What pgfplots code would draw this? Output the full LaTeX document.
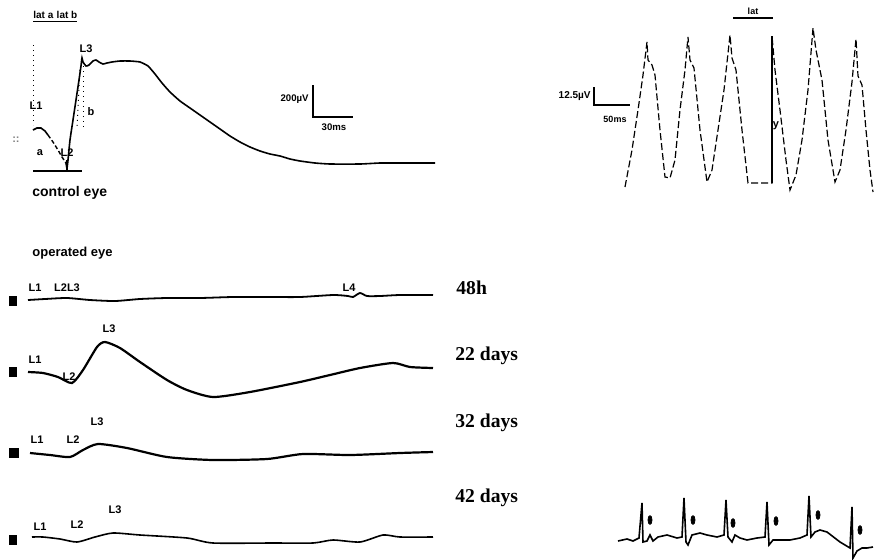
\documentclass[border=0pt]{standalone}
\usepackage{pgfplots}
\pgfplotsset{compat=1.18}
\usepackage{fontspec}
\setmainfont{Liberation Sans}
\newfontfamily\serifb{Liberation Serif}
\tikzset{lab/.style={inner sep=0pt, font=\bfseries\fontsize{5.5}{6}\selectfont},
         day/.style={inner sep=0pt, anchor=west, font=\serifb\bfseries\fontsize{9.8}{10}\selectfont}}
\begin{document}
\begin{tikzpicture}
\begin{axis}[
  scale only axis, width=437.5pt, height=279.5pt,
  xmin=0, xmax=875, ymin=0, ymax=559, y dir=reverse,
  hide axis, clip=false,
]
% ---------------- control eye ----------------
\addplot[black, line width=0.8pt] coordinates {(33,130) (37,128) (41,128) (45,131) (48,135)};
\addplot[black, line width=0.7pt, dash pattern=on 2pt off 1.2pt] coordinates {(48,135) (53,142) (58,150) (62,157) (66,163)};
\addplot[black, line width=0.8pt, smooth, tension=0.3] coordinates {
(66,163) (67,168) (68,160) (70,140) (73,120) (76,100) (79,80) (81,66) (82,58) (83,62) (86,66) (89,65) (93,61) (96,60) (99,62) (103,64) (107,63) (112,62) (120,61) (130,61) (140,62) (148,66) (155,74) (162,83) (170,92) (180,101) (190,108) (200,115) (210,122) (220,129) (230,136) (240,142) (250,147) (260,151) (270,154) (280,156) (290,159) (300,161) (315,163) (330,164) (360,164) (380,163) (400,163) (435,163)};
\addplot[black, line width=0.6pt] coordinates {(33,171) (82,171)};
\addplot[black, line width=0.6pt] coordinates {(67,160) (67,172)};
\addplot[black, line width=0.5pt, dotted] coordinates {(33,45) (33,125)};
\addplot[black, line width=0.5pt, dotted] coordinates {(83,66) (83,130)};
\addplot[black, line width=0.5pt, dotted] coordinates {(80,70) (77,128)};
% scale bar 200 uV / 30 ms
\addplot[black, line width=1pt] coordinates {(313,85) (313,117) (353,117)};
\node[lab, anchor=east] at (axis cs:309,99) {\fontsize{4.8}{5}\selectfont 200µV};
\node[lab] at (axis cs:334,127) {\fontsize{4.8}{5}\selectfont 30ms};
% labels
\node[lab, anchor=west] at (axis cs:33,17) {\fontsize{5}{5}\selectfont\underline{lat a\,\,lat b}};
\node[lab] at (axis cs:36,106) {L1};
\node[lab] at (axis cs:86,49) {L3};
\node[lab] at (axis cs:67,153) {L2};
\node[lab] at (axis cs:40,153) {a};
\node[lab] at (axis cs:91,112) {b};
\node[lab, text=gray] at (axis cs:16,140) {::};
\node[lab, anchor=west] at (axis cs:32,193) {\fontsize{7}{7}\selectfont control eye};
% ---------------- flicker (top right) ----------------
\addplot[black, line width=0.6pt, dash pattern=on 3.5pt off 1.5pt] coordinates {
(625,187) (632,150) (638,110) (643,75) (647,42) (648,60) (652,65) (655,75) (660,130) (665,177) (670,178) (675,160) (680,110) (685,70) (688,37) (690,60) (694,68) (700,130) (707,182) (712,170) (718,130) (724,90) (730,35) (732,58) (736,70) (742,130) (748,183) (772,183) (772,36) (775,70) (780,110) (786,160) (790,190) (796,175) (802,140) (808,90) (813,28) (816,50) (822,80) (828,140) (835,182) (840,170) (846,130) (852,82) (856,39) (858,76) (862,85) (866,130) (870,170) (873,192)};
\addplot[black, line width=0.8pt] coordinates {(772,36) (772,183)};
\addplot[black, line width=0.8pt] coordinates {(733,18) (773,18)};
\node[lab] at (axis cs:753,11) {\fontsize{4.5}{5}\selectfont lat};
\node[lab] at (axis cs:776,126) {y};
\addplot[black, line width=1pt] coordinates {(594,87) (594,105) (630,105)};
\node[lab, anchor=east] at (axis cs:591,96) {\fontsize{5}{5}\selectfont 12.5µV};
\node[lab] at (axis cs:615,119) {\fontsize{4.5}{5}\selectfont 50ms};
% ---------------- operated eye ----------------
\node[lab, anchor=west] at (axis cs:32,253) {\fontsize{6.5}{7}\selectfont operated eye};
% 48h
\addplot[black, line width=0.9pt, smooth, tension=0.4] coordinates {
(28,300) (45,299) (67,298) (90,300) (115,301) (140,299) (167,298) (200,298) (233,297) (270,297) (300,297) (333,295) (348,296) (353,297) (360,293) (367,296) (380,296) (400,295) (433,295)};
\node[lab] at (axis cs:35,288) {L1};
\node[lab] at (axis cs:67,288) {L2L3};
\node[lab] at (axis cs:349,288) {L4};
\node[day] at (axis cs:456,288) {48h};
% 22 days
\addplot[black, line width=1.1pt, smooth, tension=0.4] coordinates {
(28,372) (43,373) (58,377) (72,383) (83,370) (97,347) (105,342) (120,348) (140,362) (167,380) (187,390) (213,397) (250,392) (300,382) (330,375) (360,368) (393,363) (410,367) (433,368)};
\node[lab] at (axis cs:35,360) {L1};
\node[lab] at (axis cs:69,377) {L2};
\node[lab] at (axis cs:109,329) {L3};
\node[day] at (axis cs:455,356) {22 days};
% 32 days
\addplot[black, line width=1.1pt, smooth, tension=0.4] coordinates {
(30,453) (50,455) (70,457) (83,450) (98,444) (127,448) (167,457) (213,460) (267,459) (303,454) (350,455) (400,453) (433,452)};
\node[lab] at (axis cs:37,440) {L1};
\node[lab] at (axis cs:73,440) {L2};
\node[lab] at (axis cs:97,422) {L3};
\node[day] at (axis cs:455,423) {32 days};
% 42 days
\addplot[black, line width=0.8pt, smooth, tension=0.4] coordinates {
(32,537) (43,537) (60,539) (77,542) (95,537) (113,533) (140,535) (187,538) (213,543) (273,543) (313,543) (333,540) (360,542) (383,535) (400,537) (433,537)};
\node[lab] at (axis cs:40,527) {L1};
\node[lab] at (axis cs:77,525) {L2};
\node[lab] at (axis cs:115,510) {L3};
\node[day] at (axis cs:455,498) {42 days};
% left markers
\fill (axis cs:9,296) rectangle (axis cs:17,306);
\fill (axis cs:9,367) rectangle (axis cs:17,377);
\fill (axis cs:9,448) rectangle (axis cs:19,458);
\fill (axis cs:9,535) rectangle (axis cs:17,545);
% ---------------- ECG (bottom right) ----------------
\addplot[black, line width=0.8pt] coordinates {
(618,541) (627,539) (633,541) (639,538) (642,503) (643,542) (647,541) (650,535) (653,541) (658,537) (667,535) (677,538) (682,537) (684,498) (686,542) (688,545) (692,535) (700,533) (707,535) (717,537) (724,535) (726,500) (728,537) (732,542) (735,535) (740,538) (747,540) (757,538) (765,537) (767,502) (769,545) (773,540) (780,540) (790,540) (800,538) (807,535) (809,496) (811,537) (815,532) (820,530) (827,532) (840,542) (850,548) (852,507) (853,558) (857,551) (862,548) (867,548) (873,547)};
\addplot[only marks, black, mark=*, mark options={scale=0.5, yscale=2.2}] coordinates {
(650,520) (693,520) (733,523) (776,521) (818,515) (860,530)};
\end{axis}
\pgfresetboundingbox
\path (current axis.south west) rectangle (current axis.north east);
\end{tikzpicture}
\end{document}
